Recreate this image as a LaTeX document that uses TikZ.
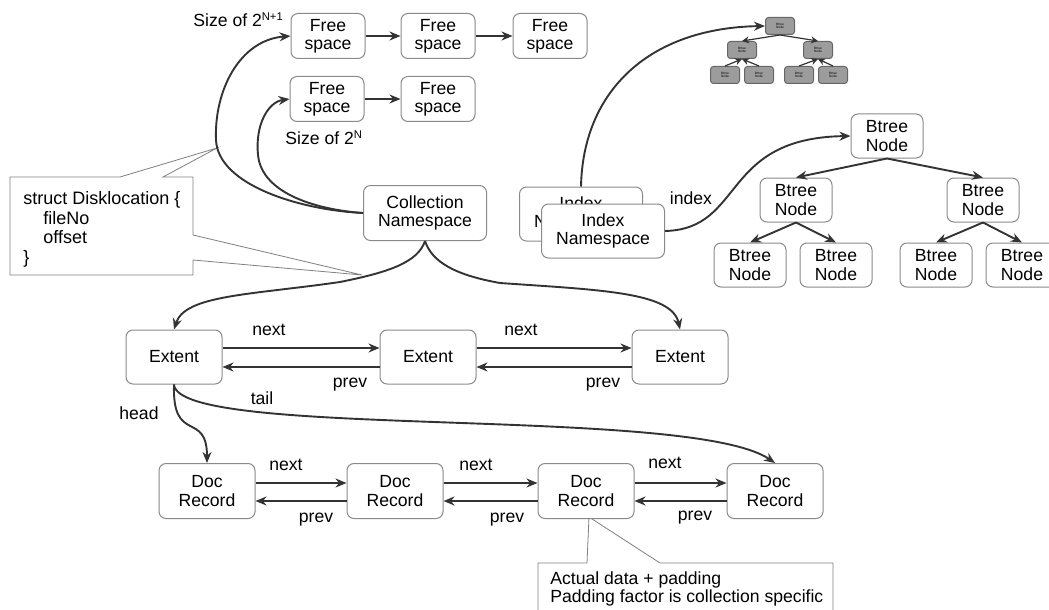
\documentclass[tikz,border=0pt]{standalone}
\usepackage{fontspec}
\setmainfont{Liberation Sans}
\usetikzlibrary{arrows.meta}

\definecolor{boxgray}{HTML}{8A8A8A}
\definecolor{linkgray}{HTML}{333333}
\definecolor{minigray}{HTML}{9C9C9C}

\newcommand{\sizeexp}[1]{\raisebox{3.2pt}{\fontsize{5.6}{6}\selectfont #1}}

\begin{document}
\begin{tikzpicture}[x=0.5pt, y=-0.5pt, >={Stealth[length=5.5pt,width=4.5pt]},
  txt/.style={font=\fontsize{8.8}{9.2}\selectfont, inner sep=0pt},
  box/.style={txt, draw=boxgray, fill=white, line width=0.5pt, rounded corners=3.5pt, align=center},
  freebox/.style={box, minimum width=37pt, minimum height=22.5pt},
  nsbox/.style={box, minimum width=61.5pt, minimum height=27pt},
  btbox/.style={box, minimum width=36pt, minimum height=22pt},
  extbox/.style={box, minimum width=48pt, minimum height=27pt},
  docbox/.style={box, minimum width=48pt, minimum height=27.5pt},
  minibox/.style={draw=black!60, fill=minigray, rounded corners=1.5pt, line width=0.5pt,
    minimum width=14.5pt, minimum height=8.5pt, inner sep=0pt, align=center,
    font=\fontsize{1.6}{1.8}\selectfont},
  link/.style={->, draw=linkgray, line width=0.95pt},
  minilink/.style={->, >={Stealth[length=3.5pt,width=3.5pt]}, draw=linkgray, line width=0.6pt},
  callout/.style={draw=black!50, fill=white, line width=0.4pt}]

\useasboundingbox (0,0) rectangle (1049,610);

%--- Callouts ---
\draw[callout] (10,177) -- (120,177) -- (217,148) -- (163,177) -- (193,177) -- (193,235)
  -- (362,275) -- (193,260) -- (193,275) -- (10,275) -- cycle;
\node[txt, anchor=north west, align=left, font=\fontsize{9}{9.8}\selectfont] (disk) at (23,191)
  {struct Disklocation \{\\\hspace*{10pt}fileNo\\\hspace*{10pt}offset\\\}};

\draw[callout] (538,563) -- (587,563) -- (589,517) -- (660,563) -- (833,563) -- (833,625)
  -- (538,625) -- cycle;
\node[txt, anchor=north west, align=left] (pad) at (550,571)
  {Actual data + padding\\Padding factor is collection specific};

%--- Free space lists ---
\node[freebox] (fa1) at (328,36) {Free\\space};
\node[freebox] (fa2) at (438,36) {Free\\space};
\node[freebox] (fa3) at (550,36) {Free\\space};
\node[freebox] (fb1) at (327,99) {Free\\space};
\node[freebox] (fb2) at (438,99) {Free\\space};
\foreach \a/\b in {fa1/fa2, fa2/fa3, fb1/fb2}
  \draw[link] (\a) -- (\b);

\node[txt, anchor=base west] (szA) at (193,27) {Size of 2\sizeexp{N+1}};
\node[txt, anchor=base west] (szB) at (285,145) {Size of 2\sizeexp{N}};

%--- Namespaces ---
\node[nsbox, minimum height=27.5pt] (cns) at (425,213) {Collection\\Namespace};
\node[nsbox] (ixb) at (581,214) {Index\\Namespace};
\node[nsbox] (ixf) at (603,231) {Index\\Namespace};

%--- Small tree ---
\foreach \n/\x/\y in {m0/780/26, m1/742/50, m2/818/50, m3/725/75, m4/759/75, m5/799/75, m6/833/75}
  \node[minibox] (\n) at (\x,\y) {Btree\\Node};
\foreach \a/\b in {m0/m1, m0/m2}
  \draw[minilink] (\a.south) -- (\b.north);
\foreach \a/\b in {m1/m3, m1/m4, m2/m5, m2/m6}
  \draw[minilink] (\b.north) -- (\a.south);

%--- Btree ---
\foreach \n/\x/\y in {bt0/887/136, bt1/796/200, bt2/983/200, bt3/750/265, bt4/836/265, bt5/936/265, bt6/1022/265}
  \node[btbox] (\n) at (\x,\y) {Btree\\Node};
\foreach \a/\b in {bt0/bt1, bt0/bt2, bt1/bt3, bt1/bt4, bt2/bt5, bt2/bt6}
  \draw[link] (\a.south) -- (\b.north);

%--- Index links ---
\draw[link] (ixb.north) .. controls (583,90) and (650,28) .. (m0.west);
\draw[link] (ixf.east) .. controls (745,229) and (720,138) .. (bt0.west);
\node[txt] (ixl) at (691,198) {index};

%--- Free space links ---
\draw[link] (cns.west) .. controls (300,210) and (218,185) .. (216,140)
  .. controls (214,90) and (240,40) .. (fa1.west);
\draw[link] (cns.west) .. controls (320,210) and (262,195) .. (258,155)
  .. controls (255,125) and (268,102) .. (fb1.west);

%--- Extents ---
\foreach \n/\x in {e1/174, e2/428, e3/680}
  \node[extbox] (\n) at (\x,357) {Extent};
\draw[link] (cns.south) .. controls (418,262) and (390,272) .. (340,282)
  .. controls (250,295) and (185,295) .. (e1.north);
\draw[link] (cns.south) .. controls (432,262) and (455,275) .. (500,283)
  .. controls (600,290) and (672,292) .. (e3.north);
\foreach \a/\b in {e1/e2, e2/e3}{
  \draw[link] ([yshift=4.5pt]\a.east) -- ([yshift=4.5pt]\b.west);
  \draw[link] ([yshift=-5pt]\b.west) -- ([yshift=-5pt]\a.east);
}
\foreach \n/\x/\y/\t in {en1/269/330/next, ep1/350/385/prev, en2/521/330/next, ep2/603/385/prev}
  \node[txt] (\n) at (\x,\y) {\t};

%--- Doc records ---
\foreach \n/\x in {d1/207, d2/395, d3/586, d4/775}
  \node[docbox] (\n) at (\x,491) {Doc\\Record};
\foreach \a/\b in {d1/d2, d2/d3, d3/d4}{
  \draw[link] ([yshift=4pt]\a.east) -- ([yshift=4pt]\b.west);
  \draw[link] ([yshift=-5pt]\b.west) -- ([yshift=-5pt]\a.east);
}
\foreach \n/\x/\y/\t in {dn1/286/465/next, dp1/316/520/prev, dn2/476/465/next, dp2/507/520/prev,
    dn3/665/463/next, dp3/695/518/prev}
  \node[txt] (\n) at (\x,\y) {\t};

%--- head / tail ---
\draw[link] (e1.south) .. controls (172,445) and (207,410) .. (d1.north);
\node[txt] (hd) at (139,413) {head};
\draw[link] (e1.south) .. controls (178,440) and (690,405) .. (d4.north);
\node[txt] (tl) at (262,398) {tail};

\end{tikzpicture}
\end{document}
